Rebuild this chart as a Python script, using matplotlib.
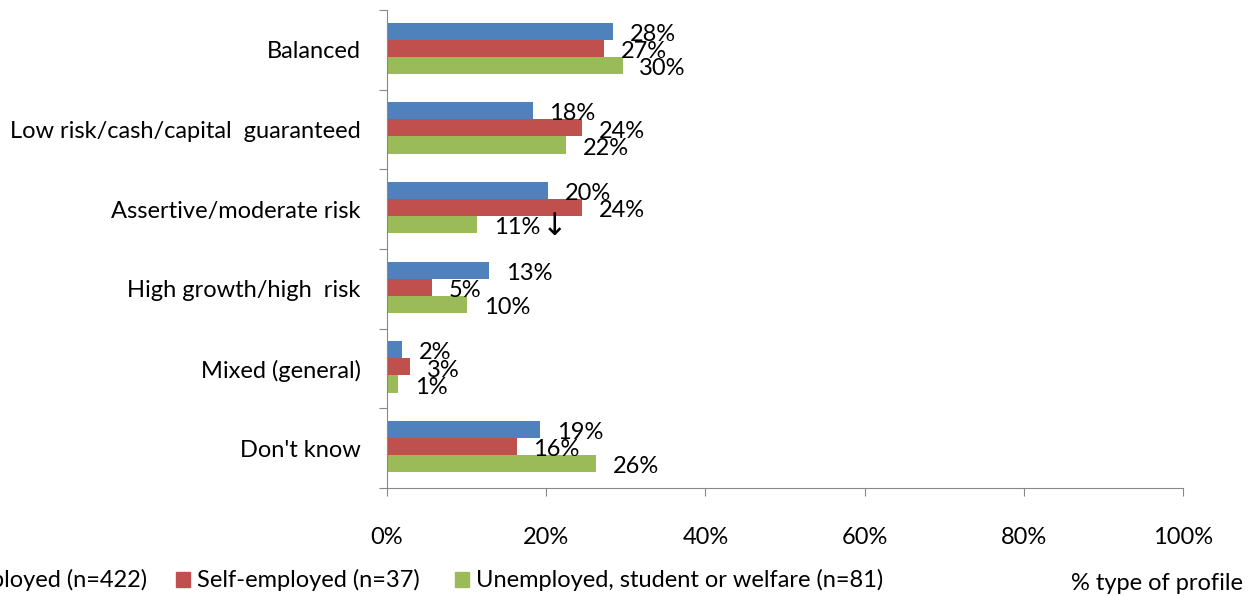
import numpy as np
import matplotlib
matplotlib.use("Agg")
from matplotlib import pyplot as plt
from matplotlib.patches import Rectangle

plt.rcParams['font.family'] = ['Lato', 'DejaVu Sans']

categories = ["Balanced", "Low risk/cash/capital  guaranteed", "Assertive/moderate risk",
              "High growth/high  risk", "Mixed (general)", "Don't know"]
employed = [28.4, 18.3, 20.2, 12.8, 1.9, 19.2]
self_employed = [27.3, 24.5, 24.5, 5.7, 2.9, 16.3]
unemployed = [29.6, 22.5, 11.3, 10.1, 1.4, 26.3]
employed_lbl = ["28%", "18%", "20%", "13%", "2%", "19%"]
self_lbl = ["27%", "24%", "24%", "5%", "3%", "16%"]
unemp_lbl = ["30%", "22%", "11%", "10%", "1%", "26%"]
series_names = ["Employed (n=422)", "Self-employed (n=37)", "Unemployed, student or welfare (n=81)"]
colors = ["#4F81BD", "#C0504D", "#9BBB59"]

W, H = 1259, 596
fig = plt.figure(figsize=(W / 100, H / 100), dpi=100)
ax = fig.add_axes([387 / W, 1 - 488 / H, (1183 - 387) / W, (488 - 10) / H])

y = np.arange(len(categories))
bh = 0.215
fs = 17
series = [(employed, employed_lbl), (self_employed, self_lbl), (unemployed, unemp_lbl)]
for i, (vals, lbls) in enumerate(series):
    pos = y - 0.02 + (i - 1) * bh
    ax.barh(pos, vals, height=bh, color=colors[i])
    for p, v, l in zip(pos, vals, lbls):
        ax.text(v + 2.1, p + 0.04, l, ha='left', va='center', fontsize=fs)

# down arrow next to the 11% label
ax.text(unemployed[2] + 8.2, y[2] + bh - 0.02 + 0.02, "\u2193", ha='left', va='center',
        fontsize=fs + 5, family=['DejaVu Sans'])

ax.set_xlim(0, 100)
ax.set_ylim(len(categories) - 0.5, -0.5)
ax.set_xticks(np.arange(0, 101, 20))
ax.set_xticklabels([f"{v}%" for v in range(0, 101, 20)], fontsize=fs)
ax.tick_params(axis='x', length=6, color='#888888', pad=22)

ax.set_yticks(np.arange(-0.5, len(categories), 1.0))
ax.set_yticklabels([])
ax.set_yticks(y, minor=True)
ax.set_yticklabels(categories, minor=True, fontsize=fs)
ax.tick_params(axis='y', which='major', length=6, color='#888888')
ax.tick_params(axis='y', which='minor', length=0, pad=19)

for s in ['top', 'right']:
    ax.spines[s].set_visible(False)
for s in ['left', 'bottom']:
    ax.spines[s].set_color('#888888')

# legend, cut off at the left edge like the original
ly = 1 - 580 / H
fig.text(147 / W, ly, series_names[0], ha='right', va='center', fontsize=fs)
fig.add_artist(Rectangle((176 / W, 1 - 587 / H), 14 / W, 15 / H, color=colors[1],
                         transform=fig.transFigure))
fig.text(197 / W, ly, series_names[1], ha='left', va='center', fontsize=fs)
fig.add_artist(Rectangle((455 / W, 1 - 587 / H), 14 / W, 15 / H, color=colors[2],
                         transform=fig.transFigure))
fig.text(476 / W, ly, series_names[2], ha='left', va='center', fontsize=fs)
fig.text(1243 / W, 1 - 583 / H, "% type of profile", ha='right', va='center', fontsize=fs)

fig.savefig("out.png", dpi=100)
